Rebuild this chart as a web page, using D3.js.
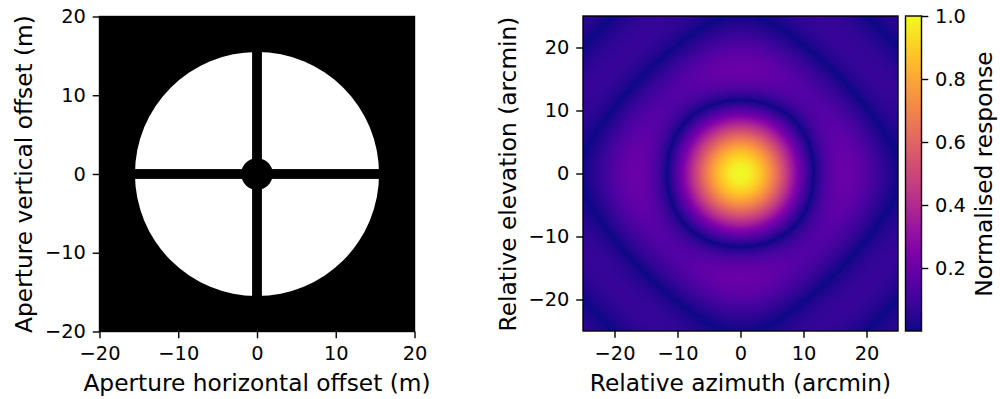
<!DOCTYPE html>
<html>
<head>
<meta charset="utf-8">
<script src="https://cdn.jsdelivr.net/npm/d3@7"></script>
<style>
  body { margin: 0; background: #fff; }
  text { font-family: "DejaVu Sans", sans-serif; fill: #000; }
</style>
</head>
<body>
<svg id="fig" width="1000" height="399"></svg>
<script>
// axis ranges and ticks
const apertureExtent = [-20, 20];          // m
const apertureTicks = [-20, -10, 0, 10, 20];
const beamExtent = [-25, 25];              // arcmin
const beamTicks = [-20, -10, 0, 10, 20];
const colorTicks = [0.2, 0.4, 0.6, 0.8, 1.0];

// aperture geometry
const dishRadius = [15.5];
const blockRadius = [2.0];
const strutWidth = [1.25];
const wavelength = [0.091];                // m, picked so the first null sits near 12 arcmin

const tickFont = 19.4, labelFont = 23.3;
const tickLen = 6.8, tickPad = 6.8;

const svg = d3.select('#fig');

function frame(g, x, y) {
    g.append('rect')
        .attr('x', x.range()[0]).attr('y', y.range()[1])
        .attr('width', x.range()[1] - x.range()[0])
        .attr('height', y.range()[0] - y.range()[1])
        .attr('fill', 'none').attr('stroke', '#000').attr('stroke-width', 1.4);
}

function axes(g, x, y, xt, yt) {
    const top = y.range()[1], bottom = y.range()[0], left = x.range()[0];
    const ax = g.append('g')
        .attr('transform', `translate(0,${bottom})`)
        .call(d3.axisBottom(x).tickValues(xt).tickSize(tickLen).tickPadding(tickPad + 1.5).tickSizeOuter(0));
    const ay = g.append('g')
        .attr('transform', `translate(${left},0)`)
        .call(d3.axisLeft(y).tickValues(yt).tickSize(tickLen).tickPadding(tickPad).tickSizeOuter(0));
    [ax, ay].forEach(a => {
        a.select('.domain').remove();
        a.selectAll('line').attr('stroke', '#000').attr('stroke-width', 1.4);
        a.selectAll('text').style('font-size', tickFont + 'px').attr('fill', '#000');
    });
}

// ---------- left: aperture ----------
const xa = d3.scaleLinear().domain(apertureExtent).range([99.5, 414.5]);
const ya = d3.scaleLinear().domain(apertureExtent).range([331.5, 16.5]);
const left = svg.append('g');
svg.append('clipPath').attr('id', 'clipA').append('rect')
    .attr('x', 99.5).attr('y', 16.5).attr('width', 315).attr('height', 315);
const ap = left.append('g').attr('clip-path', 'url(#clipA)');
ap.append('rect').attr('x', 99.5).attr('y', 16.5).attr('width', 315).attr('height', 315).attr('fill', '#000');
ap.append('circle').attr('cx', xa(0)).attr('cy', ya(0))
    .attr('r', xa(dishRadius[0]) - xa(0)).attr('fill', '#fff');
ap.append('rect')
    .attr('x', xa(-strutWidth[0] / 2)).attr('y', ya(dishRadius[0] + 1))
    .attr('width', xa(strutWidth[0] / 2) - xa(-strutWidth[0] / 2))
    .attr('height', ya(-dishRadius[0] - 1) - ya(dishRadius[0] + 1)).attr('fill', '#000');
ap.append('rect')
    .attr('x', xa(-dishRadius[0] - 1)).attr('y', ya(strutWidth[0] / 2))
    .attr('width', xa(dishRadius[0] + 1) - xa(-dishRadius[0] - 1))
    .attr('height', ya(-strutWidth[0] / 2) - ya(strutWidth[0] / 2)).attr('fill', '#000');
ap.append('circle').attr('cx', xa(0)).attr('cy', ya(0))
    .attr('r', xa(blockRadius[0]) - xa(0)).attr('fill', '#000');
axes(left, xa, ya, apertureTicks, apertureTicks);
frame(left, xa, ya);

left.append('text').attr('x', 257).attr('y', 391).attr('text-anchor', 'middle')
    .style('font-size', labelFont + 'px').text('Aperture horizontal offset (m)');
left.append('text').attr('transform', 'translate(32,174) rotate(-90)').attr('text-anchor', 'middle')
    .style('font-size', labelFont + 'px').text('Aperture vertical offset (m)');

// ---------- right: far-field beam from the aperture ----------
const n = 315;
const dx = 0.1;
const xs = d3.range(-16 + dx / 2, 16, dx);
const inAperture = (px, py) => {
    const r = Math.hypot(px, py);
    return r <= dishRadius[0] && r >= blockRadius[0] &&
        Math.abs(px) > strutWidth[0] / 2 && Math.abs(py) > strutWidth[0] / 2 ? 1 : 0;
};
const A = xs.map(py => Float64Array.from(xs, px => inAperture(px, py)));
const arcmin = Math.PI / 180 / 60;
const angles = d3.range(n).map(i => beamExtent[0] + (i + 0.5) * (beamExtent[1] - beamExtent[0]) / n);
const C = angles.map(a => {
    const k = 2 * Math.PI * Math.sin(a * arcmin) / wavelength[0];
    return Float64Array.from(xs, p => Math.cos(k * p));
});
const m = xs.length;
const G = angles.map((a, i) => {
    const row = new Float64Array(m), c = C[i];
    for (let j = 0; j < m; j++) {
        let s = 0; const aj = A[j];
        for (let k = 0; k < m; k++) s += aj[k] * c[k];
        row[j] = s;
    }
    return row;
});
const F = angles.map((a, i) => {
    const out = new Float64Array(n), g = G[i];
    for (let v = 0; v < n; v++) {
        let s = 0; const c = C[v];
        for (let j = 0; j < m; j++) s += g[j] * c[j];
        out[v] = Math.abs(s);
    }
    return out;
});
let peak = 0, low = Infinity;
F.forEach(r => r.forEach(v => { if (v > peak) peak = v; if (v < low) low = v; }));
const vmin = low / peak;

const color = d3.scaleSequential(d3.interpolatePlasma).domain([vmin, 1]);
const lut = d3.range(256).map(i => d3.rgb(d3.interpolatePlasma(i / 255)));
const canvas = document.createElement('canvas');
canvas.width = n; canvas.height = n;
const ctx = canvas.getContext('2d');
const img = ctx.createImageData(n, n);
for (let r = 0; r < n; r++) {
    for (let i = 0; i < n; i++) {
        const t = (F[i][n - 1 - r] / peak - vmin) / (1 - vmin);
        const c = lut[Math.max(0, Math.min(255, Math.round(t * 255)))];
        const o = 4 * (r * n + i);
        img.data[o] = c.r; img.data[o + 1] = c.g; img.data[o + 2] = c.b; img.data[o + 3] = 255;
    }
}
ctx.putImageData(img, 0, 0);

const xb = d3.scaleLinear().domain(beamExtent).range([583, 898]);
const yb = d3.scaleLinear().domain(beamExtent).range([331, 16]);
const right = svg.append('g');
right.append('image').attr('href', canvas.toDataURL())
    .attr('x', 583).attr('y', 16).attr('width', 315).attr('height', 315)
    .attr('preserveAspectRatio', 'none');
axes(right, xb, yb, beamTicks, beamTicks);
frame(right, xb, yb);
right.append('text').attr('x', 740.5).attr('y', 391).attr('text-anchor', 'middle')
    .style('font-size', labelFont + 'px').text('Relative azimuth (arcmin)');
right.append('text').attr('transform', 'translate(516,174) rotate(-90)').attr('text-anchor', 'middle')
    .style('font-size', labelFont + 'px').text('Relative elevation (arcmin)');

// ---------- colorbar ----------
const yc = d3.scaleLinear().domain([vmin, 1]).range([331, 16]);
const grad = svg.append('defs').append('linearGradient').attr('id', 'cbar')
    .attr('x1', 0).attr('y1', 1).attr('x2', 0).attr('y2', 0);
d3.range(0, 1.0001, 0.05).forEach(t => grad.append('stop')
    .attr('offset', t).attr('stop-color', d3.interpolatePlasma(t)));
const cb = svg.append('g');
cb.append('rect').attr('x', 905.5).attr('y', 16).attr('width', 16).attr('height', 315)
    .attr('fill', 'url(#cbar)').attr('stroke', '#000').attr('stroke-width', 1.4);
const ac = cb.append('g').attr('transform', 'translate(921.5,0)')
    .call(d3.axisRight(yc).tickValues(colorTicks).tickFormat(d3.format('.1f'))
        .tickSize(tickLen).tickPadding(tickPad).tickSizeOuter(0));
ac.select('.domain').remove();
ac.selectAll('line').attr('stroke', '#000').attr('stroke-width', 1.4);
ac.selectAll('text').style('font-size', tickFont + 'px').attr('fill', '#000');
cb.append('text').attr('transform', 'translate(992,174) rotate(-90)').attr('text-anchor', 'middle')
    .style('font-size', labelFont + 'px').text('Normalised response');
</script>
</body>
</html>
